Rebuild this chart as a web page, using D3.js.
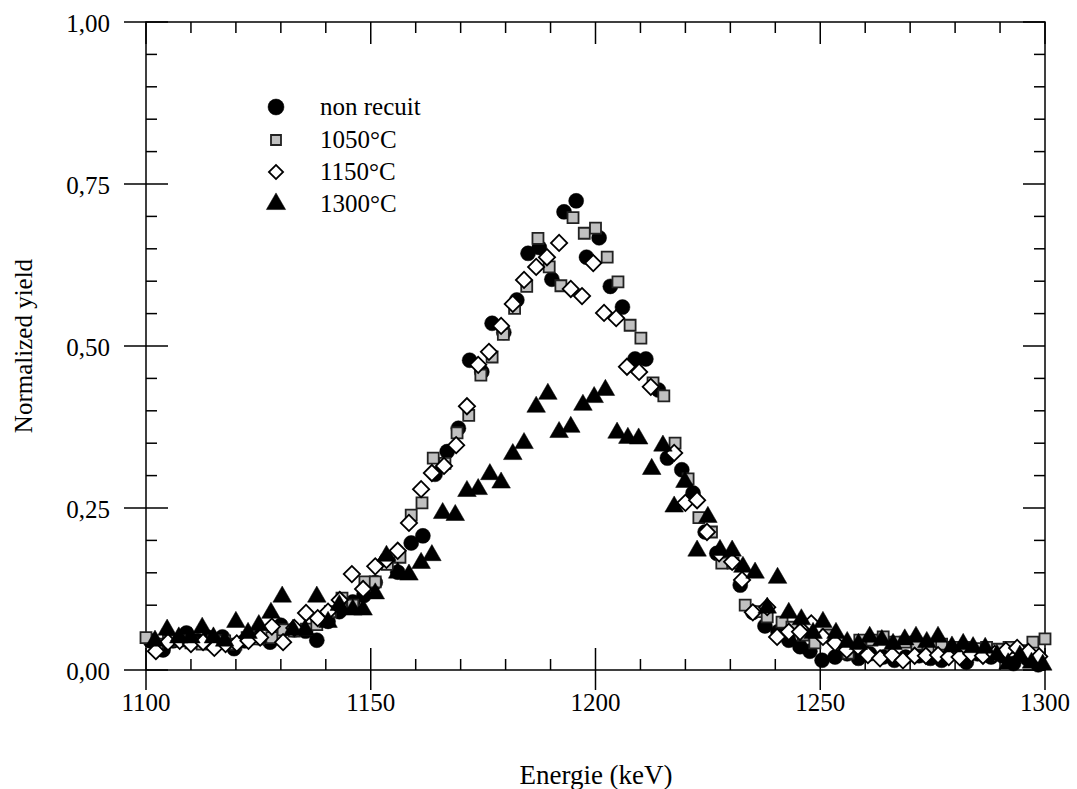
<!DOCTYPE html>
<html><head><meta charset="utf-8">
<script src="https://cdn.jsdelivr.net/npm/d3@7"></script>
<style>
html,body{margin:0;padding:0;background:#fff;}
svg{display:block;}
text{font-family:"Liberation Serif","Times New Roman",serif;fill:#000;}
</style></head>
<body><svg id="chart" width="1077" height="789"></svg>
<script>
// ---- data ----
const seriesNames = ["non recuit", "1050°C", "1150°C", "1300°C"];
const xTicks = [1100, 1150, 1200, 1250, 1300];
const yTicks = [0, 0.25, 0.5, 0.75, 1.0];

const nonRecuit = [
 [1101,0.045],[1103.8,0.031],[1106,0.045],[1109,0.057],[1111.5,0.045],[1114,0.05],[1117,0.051],[1119.6,0.033],
 [1122,0.045],[1125,0.05],[1127.6,0.043],[1130,0.069],[1133,0.062],[1135.5,0.06],[1138,0.046],[1140.5,0.075],
 [1143,0.09],[1146,0.105],[1148.5,0.115],[1151,0.135],[1153.5,0.17],[1156,0.151],[1159,0.196],[1161.6,0.207],
 [1164.3,0.302],[1167,0.337],[1169.5,0.373],[1172,0.478],[1174.7,0.46],[1177,0.535],[1179.6,0.521],[1182.5,0.571],
 [1185,0.643],[1187.5,0.652],[1190.3,0.603],[1193,0.707],[1195.7,0.724],[1198,0.637],[1200.8,0.667],[1203.3,0.592],
 [1206,0.56],[1208.8,0.48],[1211.2,0.48],[1214,0.432],[1216,0.327],[1219.2,0.309],[1221.7,0.273],[1224.4,0.213],
 [1227,0.18],[1229.5,0.17],[1232.2,0.131],[1235,0.089],[1237.7,0.068],[1240.6,0.059],[1243,0.046],[1245.5,0.036],
 [1247.7,0.029],[1250.4,0.015],[1253.3,0.02],[1256,0.025],[1258.5,0.018],[1261,0.025],[1264,0.02],[1266.5,0.015],
 [1269,0.02],[1272,0.022],[1274.5,0.018],[1277,0.015],[1280,0.03],[1282.5,0.012],[1285,0.025],[1288,0.02],
 [1290.5,0.022],[1293,0.01],[1296,0.018],[1298.5,0.008]
];
const recuit1050 = [
 [1100,0.05],[1102.5,0.04],[1105,0.045],[1107.5,0.045],[1110,0.042],[1112.5,0.04],[1115,0.045],[1117.5,0.045],
 [1120,0.04],[1122.5,0.05],[1125,0.048],[1128,0.05],[1130.5,0.062],[1133,0.06],[1135.7,0.063],[1138,0.07],
 [1141,0.09],[1143.6,0.111],[1146,0.1],[1148.7,0.136],[1151,0.136],[1153.7,0.163],[1156.5,0.174],[1159,0.239],
 [1161.4,0.258],[1163.9,0.327],[1166.5,0.319],[1169.2,0.366],[1171.8,0.393],[1174.5,0.455],[1177,0.483],[1179.5,0.518],
 [1182,0.558],[1184.7,0.592],[1187.2,0.666],[1189.7,0.622],[1192.3,0.593],[1195,0.698],[1197.5,0.674],[1200,0.682],
 [1202.6,0.637],[1205,0.599],[1207.7,0.532],[1210.1,0.512],[1212.8,0.443],[1215.2,0.423],[1217.7,0.35],[1220.6,0.295],
 [1223,0.235],[1225.8,0.213],[1228.1,0.165],[1230.6,0.165],[1233.3,0.1],[1235.8,0.09],[1238.2,0.082],[1241.5,0.074],
 [1243.7,0.066],[1246.2,0.054],[1248.8,0.042],[1251.5,0.054],[1254,0.043],[1256.2,0.026],[1258.8,0.046],[1261.5,0.046],
 [1264,0.051],[1266.6,0.043],[1268.9,0.043],[1271.5,0.04],[1274,0.035],[1277,0.04],[1279.5,0.035],[1282,0.035],
 [1284.5,0.033],[1287,0.035],[1289.5,0.032],[1292,0.035],[1294.7,0.03],[1297.3,0.043],[1300,0.048]
];
const recuit1150 = [
 [1102.2,0.029],[1104.9,0.043],[1107.5,0.045],[1110,0.04],[1112.7,0.043],[1115.2,0.034],[1117.7,0.04],[1120.2,0.041],
 [1122.8,0.045],[1125.4,0.05],[1128,0.067],[1130.5,0.043],[1133,0.065],[1135.6,0.088],[1138.2,0.08],[1140.5,0.09],
 [1143.1,0.108],[1145.8,0.148],[1148.3,0.125],[1151,0.16],[1153.5,0.17],[1156,0.184],[1158.5,0.227],[1161.2,0.279],
 [1163.6,0.304],[1166.3,0.315],[1169,0.347],[1171.4,0.407],[1173.9,0.471],[1176.3,0.491],[1179,0.531],[1181.6,0.565],
 [1184.1,0.602],[1186.8,0.622],[1189.2,0.637],[1191.9,0.659],[1194.5,0.588],[1197,0.577],[1199.5,0.628],[1201.9,0.551],
 [1204.6,0.543],[1207,0.468],[1209.7,0.46],[1212.3,0.437],[1217.5,0.335],[1220,0.258],[1222.6,0.262],
 [1224.8,0.213],[1227.5,0.18],[1230.4,0.167],[1232.6,0.139],[1235,0.089],[1238.2,0.097],[1240.4,0.051],[1243,0.059],
 [1245.5,0.059],[1248,0.072],[1250.6,0.051],[1253.3,0.042],[1255.9,0.031],[1258.4,0.036],[1260.6,0.023],[1263.3,0.018],
 [1266,0.023],[1268.4,0.015],[1271,0.022],[1273.5,0.022],[1276.2,0.023],[1278.6,0.02],[1281,0.02],[1283.6,0.025],
 [1286.2,0.022],[1288.8,0.025],[1291.3,0.03],[1293.8,0.034],[1296.3,0.028],[1298.7,0.021]
];
const recuit1300 = [
 [1102,0.045],[1104.7,0.062],[1107.3,0.05],[1110,0.05],[1112.5,0.065],[1115,0.05],[1117.5,0.045],[1120,0.074],
 [1122.7,0.057],[1125.1,0.069],[1127.8,0.088],[1130.3,0.113],[1132.7,0.062],[1135.4,0.062],[1138,0.113],[1140.5,0.074],
 [1143,0.1],[1146,0.093],[1148.3,0.093],[1151,0.118],[1153.5,0.176],[1156,0.15],[1158.5,0.147],[1161.2,0.165],
 [1163.6,0.177],[1166,0.242],[1168.8,0.239],[1171.4,0.276],[1173.9,0.279],[1176.5,0.302],[1179,0.289],[1181.6,0.333],
 [1184.1,0.35],[1186.8,0.406],[1189.4,0.426],[1191.9,0.367],[1194.5,0.375],[1197.2,0.409],[1199.7,0.421],[1202.2,0.432],
 [1204.8,0.366],[1207.2,0.358],[1209.6,0.357],[1212.5,0.31],[1215,0.346],[1217.5,0.252],[1219.9,0.29],[1222.6,0.184],
 [1225,0.236],[1227.7,0.185],[1230.4,0.184],[1232.8,0.159],[1235.5,0.15],[1238.2,0.096],[1240.5,0.142],[1243,0.088],
 [1245.8,0.078],[1248.4,0.057],[1250.6,0.074],[1253.5,0.057],[1256,0.043],[1258.5,0.04],[1261,0.051],[1263.7,0.046],
 [1266.2,0.04],[1268.8,0.047],[1271.3,0.051],[1273.7,0.043],[1276.2,0.051],[1279.3,0.036],[1281.8,0.04],[1284,0.035],
 [1286.7,0.034],[1289.3,0.023],[1291.8,0.01],[1294.4,0.022],[1297,0.011],[1299.5,0.008]
];

// ---- chart ----
const svg = d3.select("#chart");
const pL = 146, pR = 1045, pT = 22, pB = 670;
const x = d3.scaleLinear().domain([1100, 1300]).range([pL, pR]);
const y = d3.scaleLinear().domain([0, 1]).range([pB, pT]);
const fmtY = v => d3.format(".2f")(v).replace(".", ",");
const FS = 25;

// frame
svg.append("rect").attr("x", pL).attr("y", pT).attr("width", pR - pL).attr("height", pB - pT)
  .attr("fill", "none").attr("stroke", "#000").attr("stroke-width", 1.5);

const minorX = d3.range(1100, 1301, 10);
const minorY = d3.range(0, 1.001, 0.05);
const tk = svg.append("g").attr("stroke", "#000").attr("stroke-width", 1.5);
minorX.forEach(v => {
  const major = v % 50 === 0;
  tk.append("line").attr("x1", x(v)).attr("x2", x(v)).attr("y1", major ? pB + 20 : pB).attr("y2", pB - (major ? 22 : 11));
  tk.append("line").attr("x1", x(v)).attr("x2", x(v)).attr("y1", pT).attr("y2", pT + (major ? 22 : 11));
});
minorY.forEach(v => {
  const major = Math.abs(v * 4 - Math.round(v * 4)) < 1e-6;
  tk.append("line").attr("y1", y(v)).attr("y2", y(v)).attr("x1", major ? pL - 22 : pL).attr("x2", pL + (major ? 22 : 11));
  tk.append("line").attr("y1", y(v)).attr("y2", y(v)).attr("x1", pR).attr("x2", pR - (major ? 22 : 11));
});

// tick labels
svg.append("g").selectAll("text").data(xTicks).join("text")
  .attr("x", d => x(d)).attr("y", 711).attr("text-anchor", "middle").attr("font-size", FS).text(d => d);
svg.append("g").selectAll("text").data(yTicks).join("text")
  .attr("x", 110).attr("y", d => y(d) + 9.5).attr("text-anchor", "end").attr("font-size", FS).text(d => fmtY(d));

// axis titles
svg.append("text").attr("x", 596).attr("y", 784).attr("text-anchor", "middle").attr("font-size", 27).text("Energie (keV)");
svg.append("text").attr("transform", "translate(32," + 346 + ") rotate(-90)").attr("text-anchor", "middle")
  .attr("font-size", FS).text("Normalized yield");

// symbols
const sym = {
  circle: d3.symbol().type(d3.symbolCircle).size(Math.PI * 7.5 * 7.5),
  square: d3.symbol().type(d3.symbolSquare).size(11 * 11),
  diamond: d3.symbol().type(d3.symbolSquare).size(11.5 * 11.5),
  triangle: d3.symbol().type(d3.symbolTriangle).size(150)
};
const styles = [
  {data: nonRecuit, path: sym.circle(), fill: "#000", stroke: "#000", sw: 0.5, rot: 0},
  {data: recuit1050, path: sym.square(), fill: "#c0c0c0", stroke: "#222", sw: 1.8, rot: 0},
  {data: recuit1150, path: sym.diamond(), fill: "#fff", stroke: "#000", sw: 1.8, rot: 45},
  {data: recuit1300, path: sym.triangle(), fill: "#000", stroke: "#000", sw: 0.5, rot: 0}
];
const plot = svg.append("g");
styles.forEach(s => {
  plot.append("g").selectAll("path").data(s.data).join("path")
    .attr("d", s.path)
    .attr("transform", d => `translate(${x(d[0])},${y(d[1])}) rotate(${s.rot})`)
    .attr("fill", s.fill).attr("stroke", s.stroke).attr("stroke-width", s.sw);
});

// legend
const legY = [107, 140, 172, 204];
const legSym = [
  d3.symbol().type(d3.symbolCircle).size(Math.PI * 8 * 8)(),
  d3.symbol().type(d3.symbolSquare).size(10 * 10)(),
  d3.symbol().type(d3.symbolSquare).size(10 * 10)(),
  d3.symbol().type(d3.symbolTriangle).size(160)()
];
const lg = svg.append("g");
seriesNames.forEach((n, i) => {
  const s = styles[i];
  lg.append("path").attr("d", legSym[i])
    .attr("transform", `translate(276,${legY[i]}) rotate(${s.rot})`)
    .attr("fill", s.fill).attr("stroke", s.stroke).attr("stroke-width", s.sw);
  lg.append("text").attr("x", 320).attr("y", legY[i] + 8).attr("font-size", FS).text(n);
});
</script></body></html>
